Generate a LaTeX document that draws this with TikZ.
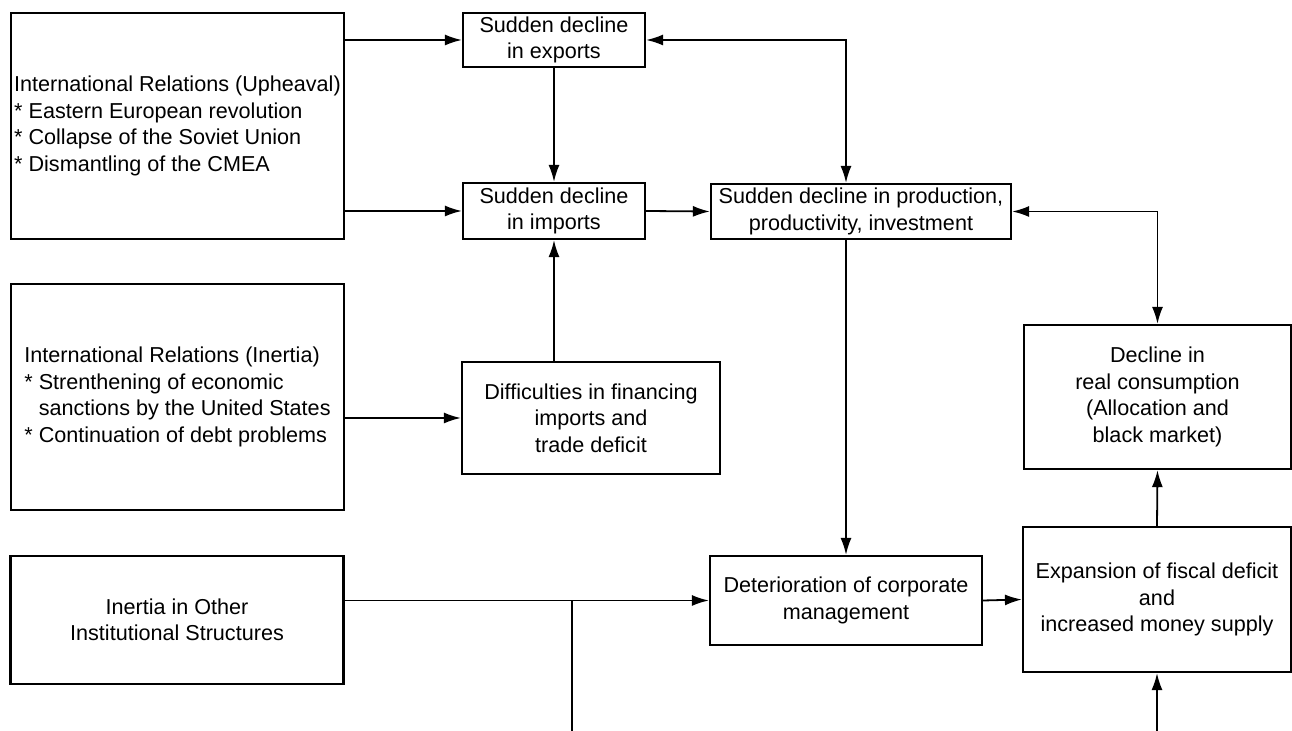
\documentclass[tikz,border=0pt]{standalone}
\usepackage{fontspec}
\setmainfont{Liberation Sans}
\usetikzlibrary{arrows.meta, positioning}

\begin{document}
\begin{tikzpicture}[x=0.5pt, y=-0.5pt, on grid,
        >={Latex[length=8.5pt,width=5.5pt]},
        box/.style={draw, line width=1.1pt, align=center, inner sep=0pt,
            font=\fontsize{10.8}{13.2}\selectfont},
        link/.style={->, line width=0.9pt},
        both/.style={<->, line width=0.9pt}]
        \useasboundingbox (0,0) rectangle (1292,731);

        \node[box, align=left, minimum width=166.5pt, minimum height=113pt] (up) at (177.5,126)
            {International Relations (Upheaval)\\{*} Eastern European revolution\\{*} Collapse of the Soviet Union\\{*} Dismantling of the CMEA};
        \node[box, align=left, minimum width=166.5pt, minimum height=113pt] (inr) [below=135.5pt of up]
            {International Relations (Inertia)\\{*} Strenthening of economic\\\phantom{* }sanctions by the United States\\{*} Continuation of debt problems};
        \node[box, minimum width=166.5pt, minimum height=64pt] (oth) at (177,620)
            {Inertia in Other\\Institutional Structures};

        \node[box, minimum width=91pt, minimum height=27pt]   (exp) at (554,40)      {Sudden decline\\in exports};
        \node[box, minimum width=91pt, minimum height=28pt]   (imp) [below=85.5pt of exp] {Sudden decline\\in imports};
        \node[box, minimum width=129pt, minimum height=56pt]  (fin) at (591,418)     {Difficulties in financing\\imports and\\trade deficit};
        \node[box, minimum width=150pt, minimum height=27.5pt] (prod) at (861,211.5) {Sudden decline in production,\\productivity, investment};
        \node[box, minimum width=136pt, minimum height=44.5pt] (det) at (846,600.5)  {Deterioration of corporate\\management};
        \node[box, minimum width=133.5pt, minimum height=72pt] (con) at (1157.5,397) {Decline in\\real consumption\\(Allocation and\\black market)};
        \node[box, minimum width=134pt, minimum height=72.5pt] (fis) at (1157,599.5) {Expansion of fiscal deficit\\and\\increased money supply};

        \coordinate (jn)   at (572,600.5);
        \coordinate (jnb)  at (572,731);
        \coordinate (fisb) at (1157,731);

        \draw[link] (up.east |- exp.west) -- (exp.west);
        \draw[link] (up.east |- imp.west) -- (imp.west);
        \draw[link] (exp.south) -- (imp.north);
        \draw[link] (imp.east) -- (prod.west);
        \draw[both] (exp.east) -| (det.north |- prod.north);
        \draw[both] (prod.east) -| (con.north);
        \draw[link] (imp.south |- fin.north) -- (imp.south);
        \draw[link] (inr.east |- fin.west) -- (fin.west);
        \draw[link] (prod.south -| det.north) -- (det.north);
        \draw[link] (oth.east |- det.west) -- (det.west);
        \draw[line width=0.9pt] (jn) -- (jnb);
        \draw[link] (det.east) -- (fis.west);
        \draw[link] (fis.north) -- (con.south);
        \draw[link] (fisb) -- (fis.south);
\end{tikzpicture}
\end{document}
